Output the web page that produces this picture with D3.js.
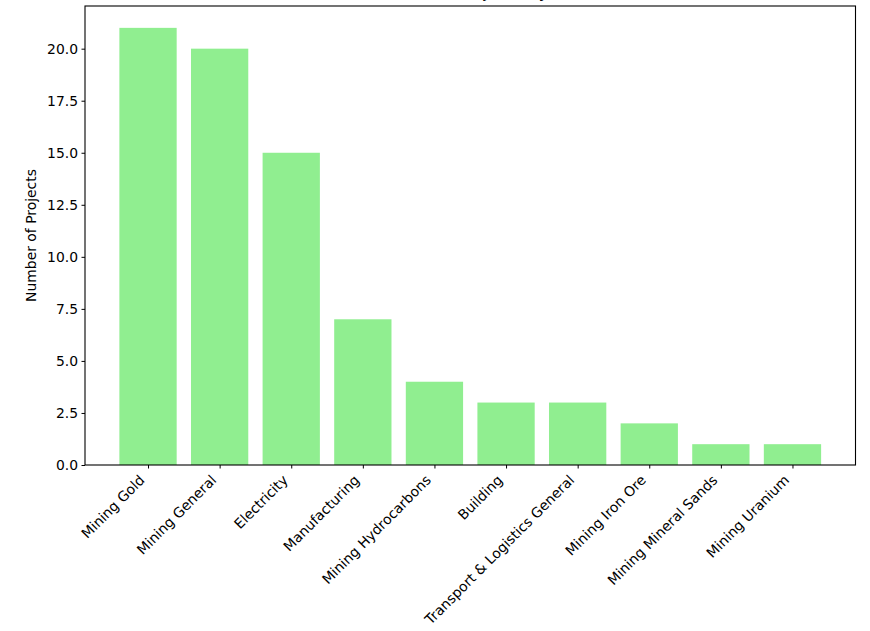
<!DOCTYPE html>
<html>
<head>
<meta charset="utf-8">
<script src="https://cdn.jsdelivr.net/npm/d3@7"></script>
<style>
  html, body { margin: 0; padding: 0; background: #fff; }
  svg { display: block; font-family: "DejaVu Sans", sans-serif; }
</style>
</head>
<body>
<svg id="chart" width="870" height="631"></svg>
<script>
const categories = ["Mining Gold", "Mining General", "Electricity", "Manufacturing", "Mining Hydrocarbons", "Building", "Transport & Logistics General", "Mining Iron Ore", "Mining Mineral Sands", "Mining Uranium"];
const counts = [21, 20, 15, 7, 4, 3, 3, 2, 1, 1];
const yTicks = [0, 2.5, 5, 7.5, 10, 12.5, 15, 17.5, 20];
const titleText = "Distribution of Projects by Sector";
const yLabel = "Number of Projects";

const svg = d3.select("#chart");
const L = 85, R = 855.5, T = 6, B = 465;

const n = categories.length;
const x = d3.scaleLinear().domain([-0.4 - 0.049 * (n - 0.2) , n - 1 + 0.4 + 0.049 * (n - 0.2)]).range([L, R]);
const maxV = d3.max(counts);
const y = d3.scaleLinear().domain([0, maxV * 1.05]).range([B, T]);

// bars
svg.append("g").selectAll("rect").data(counts).join("rect")
  .attr("x", (d, i) => x(i - 0.4))
  .attr("width", (d, i) => x(i + 0.4) - x(i - 0.4))
  .attr("y", d => y(d))
  .attr("height", d => y(0) - y(d))
  .attr("fill", "#90ee90");

// y axis
const yAxis = d3.axisLeft(y).tickValues(yTicks).tickFormat(d3.format(".1f")).tickSize(3.5).tickPadding(3.5);
const gy = svg.append("g").attr("transform", `translate(${L},0)`).call(yAxis);
gy.select(".domain").remove();
gy.selectAll(".tick line").attr("stroke", "#000").attr("stroke-width", 1);
gy.selectAll(".tick text").attr("fill", "#000").style("font-size", "13.9px").style("font-family", "DejaVu Sans");

// x axis
const xAxis = d3.axisBottom(x).tickValues(d3.range(n)).tickFormat(i => categories[i]).tickSize(3.5).tickPadding(3.5);
const gx = svg.append("g").attr("transform", `translate(0,${B})`).call(xAxis);
gx.select(".domain").remove();
gx.selectAll(".tick line").attr("stroke", "#000").attr("stroke-width", 1);
gx.selectAll(".tick text")
  .attr("fill", "#000")
  .style("font-size", "13.9px")
  .style("font-family", "DejaVu Sans")
  .attr("text-anchor", "end")
  .attr("dy", null)
  .attr("y", null)
  .attr("transform", "translate(-3,16) rotate(-45)");

// frame
svg.append("rect").attr("x", L).attr("y", T).attr("width", R - L).attr("height", B - T)
  .attr("fill", "none").attr("stroke", "#000").attr("stroke-width", 1.1);

// y label
svg.append("text")
  .attr("transform", `translate(36,${(T + B) / 2}) rotate(-90)`)
  .attr("text-anchor", "middle")
  .style("font-size", "13.9px")
  .text(yLabel);

// title (mostly outside the visible area, as in the reference)
svg.append("text")
  .attr("x", (L + R) / 2)
  .attr("y", -2.3)
  .attr("text-anchor", "middle")
  .style("font-size", "16.7px")
  .text(titleText);
</script>
</body>
</html>
